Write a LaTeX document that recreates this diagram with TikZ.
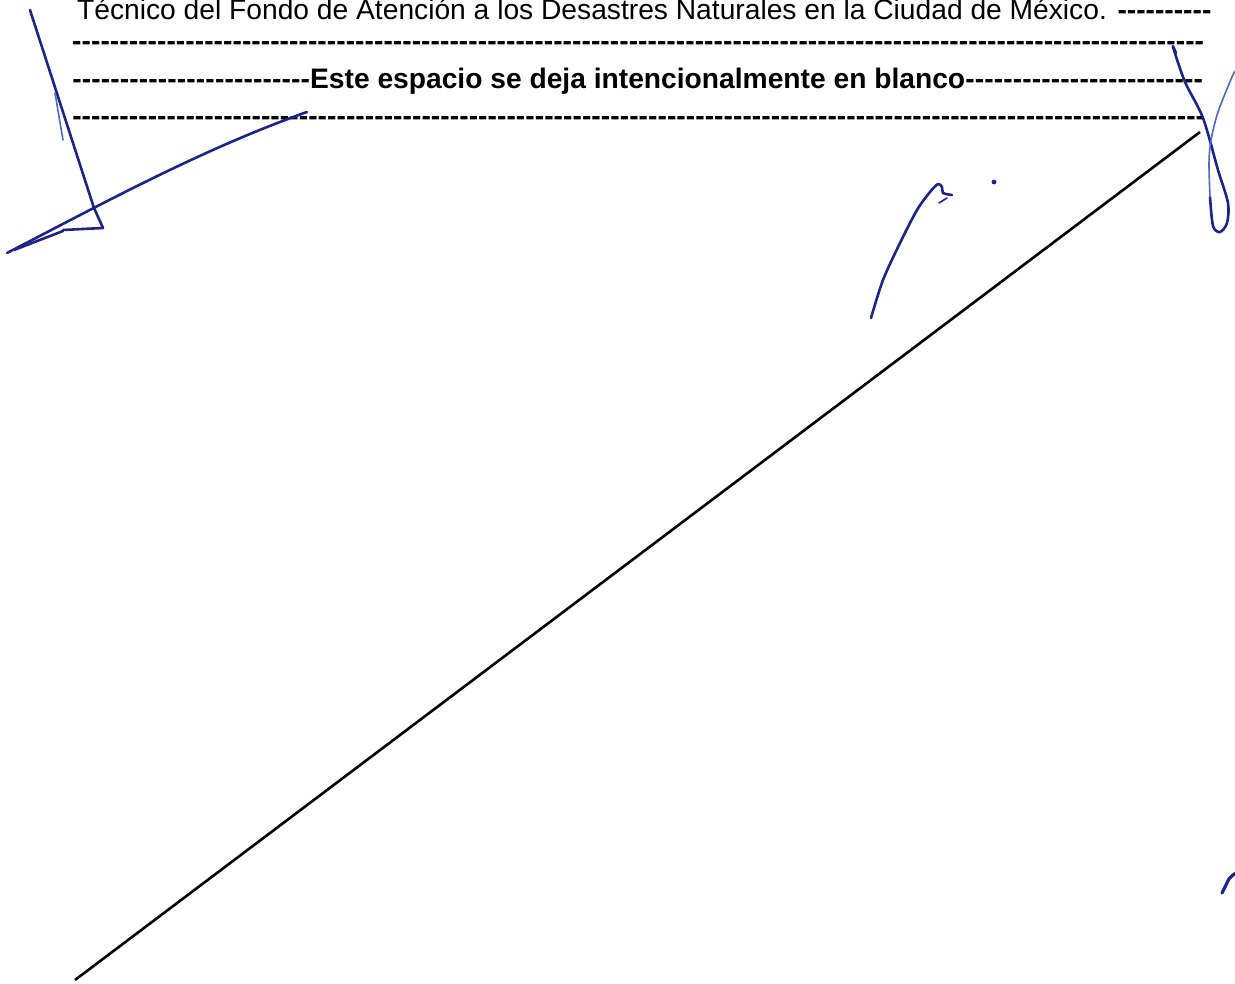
\documentclass[tikz,border=0pt]{standalone}
\usepackage{fontspec}
\setmainfont{Liberation Sans}
\definecolor{tinta}{RGB}{28,36,135}
\definecolor{tintaclara}{RGB}{75,105,195}
\begin{document}
\begin{tikzpicture}[x=1pt,y=-1pt,
	renglon/.style={anchor=base west,inner sep=0pt,font=\fontsize{28.2}{34}\selectfont},
	firma/.style={tinta,line width=2.6pt,line cap=round,line join=round},
	firmaclara/.style={tintaclara,line width=1.6pt,line cap=round}]
	\def\guiones{\xleaders\hbox{\bfseries-}\hfill}
	\def\g{\hbox{\bfseries-}}
	\useasboundingbox (0,0) rectangle (1235,984);
	\fill[white] (0,0) rectangle (1235,984);
	\node[renglon] (r1) at (77,19.7) {Técnico del Fondo de Atención a los Desastres Naturales en la Ciudad de México. \g\g\g\g\g\g\g\g\g\g};
	\node[renglon] (r2) at (72,50.7) {\hbox to 1132pt{\guiones}};
	\node[renglon] (r3) at (72,88.7) {\hbox to 1131pt{\guiones\textbf{Este espacio se deja intencionalmente en blanco}\guiones}};
	\node[renglon] (r4) at (72,125.7) {\hbox to 1133pt{\guiones}};
	\path (1200,132)coordinate(A) (75,980)coordinate(B);
	\draw[black,line width=2.6pt] (A)--(B);
	\draw[firma] (30,10)--(94,208)--(103,228)--(63,230);
	\draw[firmaclara] (55,93)--(63,140);
	\draw[firma] (7,253) .. controls (100,205) and (200,150) .. (307,112);
	\draw[firma] (14,250)--(63,231);
	\draw[firma] plot[smooth] coordinates {(1176,53) (1173,47) (1185,82) (1203,118) (1218,170) (1228,203) (1227,223) (1220,232) (1213,226) (1210,197)};
	\draw[firmaclara] plot[smooth] coordinates {(1210,197) (1209,163) (1211,140) (1218,112) (1232,77) (1236,70)};
	\draw[firma] plot[smooth] coordinates {(871,318) (883,280) (900,243) (917,210) (930,192) (938,184) (942,187) (943,193) (952,195)};
	\draw[firma,line width=1.6pt] (947,198)--(939,203);
	\fill[tinta] (994,182)circle(2.4pt);
	\draw[firma,line width=3.2pt] plot[smooth] coordinates {(1222,893) (1226,885) (1229,879) (1233,875) (1236,873)};
\end{tikzpicture}
\end{document}
